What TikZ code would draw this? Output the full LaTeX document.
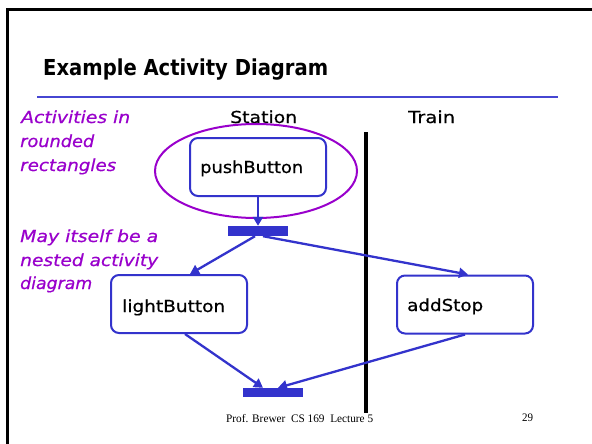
\documentclass[tikz,border=0pt]{standalone}
\usepackage{fontspec}
\setmainfont{DejaVu Sans}
\newfontfamily\labelfont{DejaVu Sans}[FakeBold=0.6]
\newfontfamily\footfont{Liberation Serif}
\usetikzlibrary{shapes.geometric,arrows.meta,calc}
\definecolor{actblue}{RGB}{51,51,204}
\definecolor{ruleblue}{RGB}{70,70,210}
\definecolor{notepurple}{RGB}{153,0,204}
% set a text to a given width, keeping its height
\newcommand\fitw[2]{\resizebox{#1}{\height}{#2}}

\begin{document}
\begin{tikzpicture}[x=1pt,y=-1pt,
  activity/.style={draw=actblue, line width=2pt, rounded corners=8pt,
    minimum width=136pt, minimum height=58pt, inner sep=0pt},
  syncbar/.style={fill=actblue, inner sep=0pt, minimum width=60pt},
  flow/.style={actblue, line width=2.3pt, -{Triangle[length=9pt,width=10pt]}},
  txt/.style={inner sep=0pt, anchor=base west, font=\labelfont\fontsize{16.5}{18}\selectfont},
  note/.style={txt, text=notepurple, font=\labelfont\fontsize{16.5}{18}\selectfont\itshape},
  foot/.style={inner sep=0pt, anchor=base west, font=\footfont\fontsize{11.5}{12}\selectfont},
]
\useasboundingbox (0,0) rectangle (592,444);
\fill[white] (0,0) rectangle (592,444);

% slide frame and title rule
\draw[line width=3pt] (7,470) -- (7,10) -- (620,10);
\draw[ruleblue, line width=2.5pt] (37,97) -- (558,97);
\node[txt, font=\fontsize{22}{24}\selectfont\bfseries] (title) at (43,76)
  {\fitw{285pt}{Example Activity Diagram}};

% swimlanes
\node[txt] (station) at (230,123) {\fitw{67pt}{Station}};
\node[txt] (train) at (408,123) {\fitw{47pt}{Train}};
\draw[line width=3.5pt] (366,132) -- (366,413);

% activities and synchronisation bars
\node[activity] (push) at (258,167) {};
\node[activity] (light) at (179,304) {};
\node[activity] (add) at (465,304.5) {};
\node[syncbar, minimum height=10pt] (fork) at (258,231) {};
\node[syncbar, minimum height=9pt] (join) at (273,392.5) {};
\node[txt] (pushtxt) at (200,173) {\fitw{103pt}{pushButton}};
\node[txt] (lighttxt) at (122,312) {\fitw{103pt}{lightButton}};
\node[txt] (addtxt) at (407,311) {\fitw{76pt}{addStop}};

% highlight round the first activity
\node[ellipse, draw=notepurple, line width=2pt, minimum width=202pt,
  minimum height=94pt, inner sep=0pt] (halo) at (256,171) {};

% control flow
\draw[flow] (push.south) -- (fork.north);
\draw[flow] ($(fork.south)+(-3,0)$) -- ($(light.north)+(11,0)$);
\draw[flow] ($(fork.south)+(5,0)$) -- ($(add.north)+(3,0)$);
\draw[flow] ($(light.south)+(6,0)$) -- ($(join.north)+(-10,0)$);
\draw[flow] (add.south) -- ($(join.north)+(5,0)$);

% side notes
\node[note] (n1) at (21,123) {\fitw{109pt}{Activities in}};
\node[note] (n2) at (20,147) {\fitw{74pt}{rounded}};
\node[note] (n3) at (20,171) {\fitw{96pt}{rectangles}};
\node[note] (n4) at (20,242) {\fitw{138pt}{May itself be a}};
\node[note] (n5) at (20,266) {\fitw{138pt}{nested activity}};
\node[note] (n6) at (20,289) {\fitw{72pt}{diagram}};

% footer
\node[foot] (footer) at (226,422) {\fitw{147pt}{Prof. Brewer\ \ CS 169\ \ Lecture 5}};
\node[foot] (page) at (522,421) {\fitw{11pt}{29}};
\end{tikzpicture}
\end{document}
